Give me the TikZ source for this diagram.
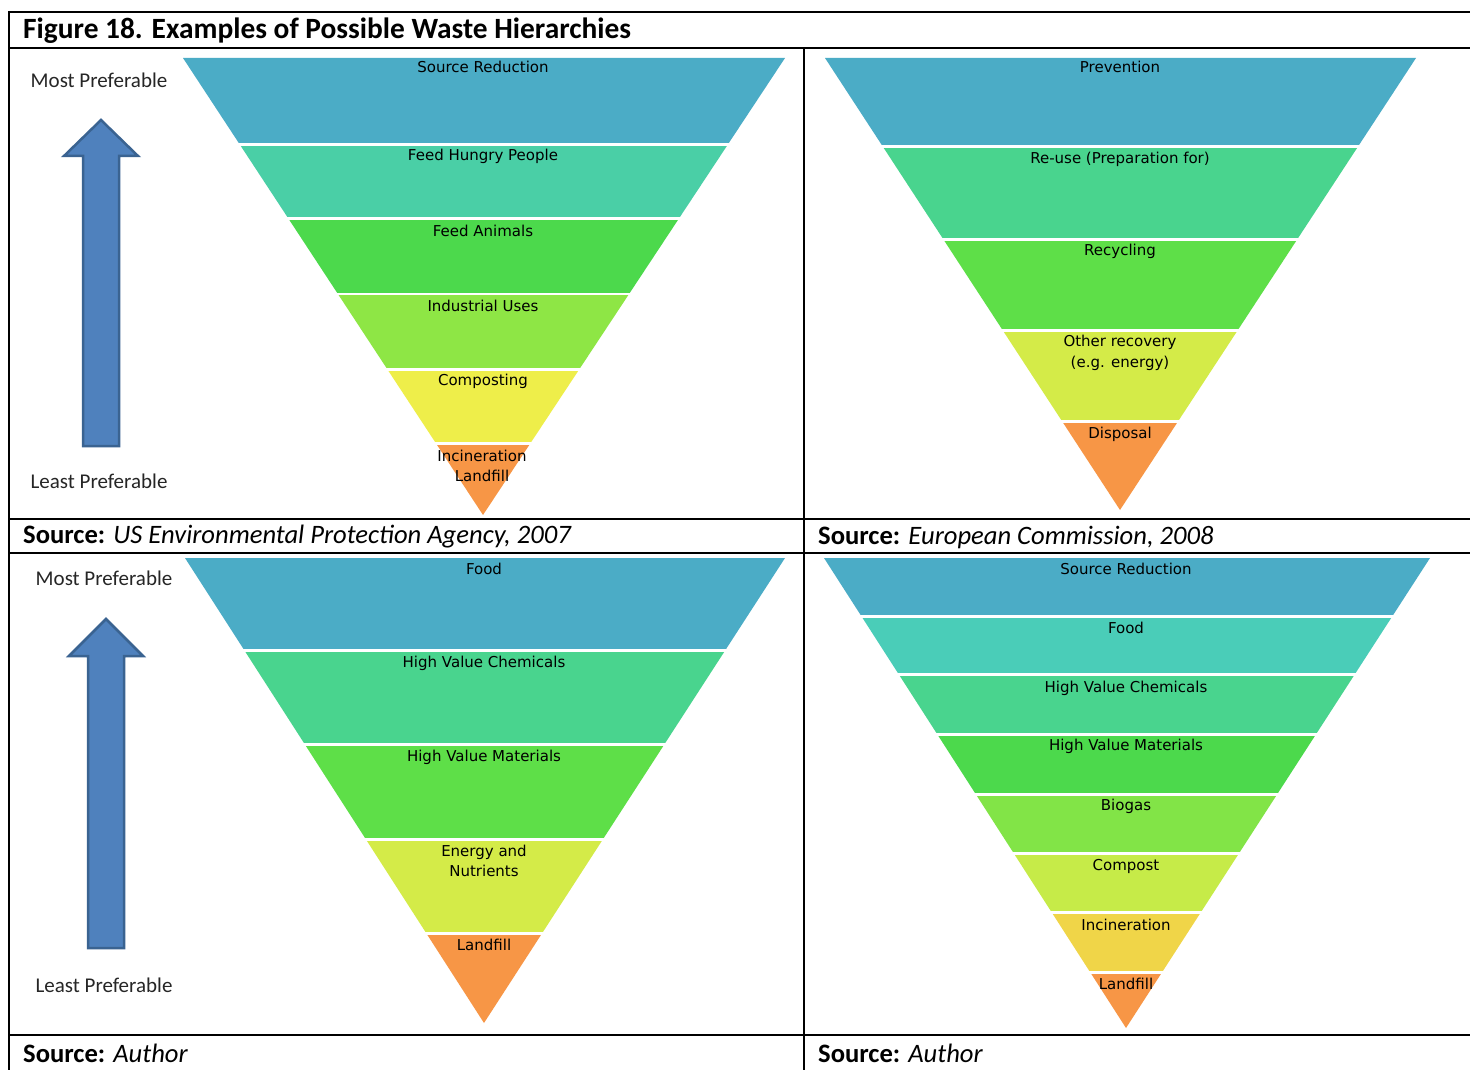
\documentclass[tikz,border=0pt]{standalone}
\usepackage{fontspec}
\setmainfont{Carlito}
\newfontfamily\labfont{DejaVu Sans}
\usetikzlibrary{calc}
\definecolor{cBlue}{HTML}{4BACC6}
\definecolor{cTeal}{HTML}{4ACFA6}
\definecolor{cTealB}{HTML}{4ACDB8}
\definecolor{cGreenT}{HTML}{49D48E}
\definecolor{cGreen}{HTML}{4CD94C}
\definecolor{cGreenB}{HTML}{5EDF48}
\definecolor{cLime}{HTML}{8EE645}
\definecolor{cLimeB}{HTML}{82E447}
\definecolor{cYelG}{HTML}{D4EB48}
\definecolor{cYelGB}{HTML}{C6EB48}
\definecolor{cYellow}{HTML}{EEEE4A}
\definecolor{cGold}{HTML}{F0D548}
\definecolor{cOrange}{HTML}{F79646}
\definecolor{arrFill}{HTML}{4F81BD}
\definecolor{arrLine}{HTML}{3A6391}
\newcommand{\pband}[8]{%
  \begin{scope}
    \clip (0,#6) rectangle (1470,#7);
    \fill[#8] (#1,#3) -- (#2,#3) -- (#4,#5) -- cycle;
  \end{scope}}
\tikzset{
  lab/.style={font=\labfont\fontsize{15}{20.5}\selectfont, align=center, inner sep=0pt, text=black},
  side/.style={font=\fontsize{21}{24}\selectfont, inner sep=0pt, text=black!85},
  src/.style={font=\fontsize{26.6}{30}\selectfont, inner sep=0pt, anchor=west},
  rule/.style={line width=2pt, black},
  bigarrow/.style={fill=arrFill, draw=arrLine, line width=2.5pt, line join=miter}
}
\begin{document}
\begin{tikzpicture}[x=1pt,y=-1pt]
\useasboundingbox (0,0) rectangle (1470,1070);
\fill[white] (0,0) rectangle (1470,1070);

% ---------- Panel 1 ----------
\pband{183}{785}{58}{483}{515}{58}{143}{cBlue}
\pband{183}{785}{58}{483}{515}{147}{216}{cTeal}
\pband{183}{785}{58}{483}{515}{220}{292}{cGreen}
\pband{183}{785}{58}{483}{515}{295}{367}{cLime}
\pband{183}{785}{58}{483}{515}{371}{441}{cYellow}
\pband{183}{785}{58}{483}{515}{445}{516}{cOrange}
\node[lab] (p1a) at (483,67) {Source Reduction};
\node[lab] (p1b) at (483,156) {Feed Hungry People};
\node[lab] (p1c) at (483,231) {Feed Animals};
\node[lab] (p1d) at (483,306) {Industrial Uses};
\node[lab] (p1e) at (483,381) {Composting};
\node[lab] (p1f) at (482,466) {Incineration\\Landfill};
\node[side] (p1most) at (99,80) {Most Preferable};
\node[side] (p1least) at (99,481) {Least Preferable};
\draw[bigarrow] (83,446) -- (83,156) -- (64,156) -- (101,120) -- (138,156) -- (119,156) -- (119,446) -- cycle;

% ---------- Panel 2 ----------
\pband{825}{1416}{58}{1120}{510}{58}{145}{cBlue}
\pband{825}{1416}{58}{1120}{510}{149}{237}{cGreenT}
\pband{825}{1416}{58}{1120}{510}{241}{328}{cGreenB}
\pband{825}{1416}{58}{1120}{510}{332}{419}{cYelG}
\pband{825}{1416}{58}{1120}{510}{423}{511}{cOrange}
\node[lab] (p2a) at (1120,67) {Prevention};
\node[lab] (p2b) at (1120,159) {Re-use (Preparation for)};
\node[lab] (p2c) at (1120,251) {Recycling};
\node[lab] (p2d) at (1120,353) {Other recovery\\(e.g. energy)};
\node[lab] (p2e) at (1120,434) {Disposal};

% ---------- Panel 3 ----------
\pband{185}{785}{558}{484}{1023}{558}{648}{cBlue}
\pband{185}{785}{558}{484}{1023}{652}{742}{cGreenT}
\pband{185}{785}{558}{484}{1023}{746}{837}{cGreenB}
\pband{185}{785}{558}{484}{1023}{841}{931}{cYelG}
\pband{185}{785}{558}{484}{1023}{935}{1024}{cOrange}
\node[lab] (p3a) at (484,569) {Food};
\node[lab] (p3b) at (484,663) {High Value Chemicals};
\node[lab] (p3c) at (484,757) {High Value Materials};
\node[lab] (p3d) at (484,861) {Energy and\\Nutrients};
\node[lab] (p3e) at (484,945) {Landfill};
\node[side] (p3most) at (104,578) {Most Preferable};
\node[side] (p3least) at (104,985) {Least Preferable};
\draw[bigarrow] (88,948) -- (88,656) -- (69,656) -- (106,619) -- (143,656) -- (124,656) -- (124,948) -- cycle;

% ---------- Panel 4 ----------
\pband{824}{1430}{558}{1126}{1028}{558}{614}{cBlue}
\pband{824}{1430}{558}{1126}{1028}{618}{672}{cTealB}
\pband{824}{1430}{558}{1126}{1028}{676}{732}{cGreenT}
\pband{824}{1430}{558}{1126}{1028}{736}{792}{cGreen}
\pband{824}{1430}{558}{1126}{1028}{796}{851}{cLimeB}
\pband{824}{1430}{558}{1126}{1028}{855}{910}{cYelGB}
\pband{824}{1430}{558}{1126}{1028}{914}{970}{cGold}
\pband{824}{1430}{558}{1126}{1028}{974}{1029}{cOrange}
\node[lab] (p4a) at (1126,569) {Source Reduction};
\node[lab] (p4b) at (1126,628) {Food};
\node[lab] (p4c) at (1126,688) {High Value Chemicals};
\node[lab] (p4d) at (1126,746) {High Value Materials};
\node[lab] (p4e) at (1126,806) {Biogas};
\node[lab] (p4f) at (1126,866) {Compost};
\node[lab] (p4g) at (1126,925) {Incineration};
\node[lab] (p4h) at (1126,984) {Landfill};

% ---------- Table rules ----------
\draw[rule] (8,12) -- (1470,12);
\draw[rule] (8,48) -- (1470,48);
\draw[rule] (9,11) -- (9,1070);
\draw[rule] (804,48) -- (804,1070);
\draw[rule] (8,518.5) -- (1470,518.5);
\draw[rule] (8,552.5) -- (1470,552.5);
\draw[rule] (8,1035) -- (1470,1035);

% ---------- Texts ----------
\node[font=\bfseries\fontsize{29.4}{32}\selectfont, inner sep=0pt, anchor=west] (title) at (23,31) {Figure 18. Examples of Possible Waste Hierarchies};
\node[src] (s1) at (23,537) {\textbf{Source:} \textit{US Environmental Protection Agency, 2007}};
\node[src] (s2) at (818,537) {\textbf{Source:} \textit{European Commission, 2008}};
\node[src] (s3) at (23,1053) {\textbf{Source:} \textit{Author}};
\node[src] (s4) at (818,1053) {\textbf{Source:} \textit{Author}};
\end{tikzpicture}
\end{document}
